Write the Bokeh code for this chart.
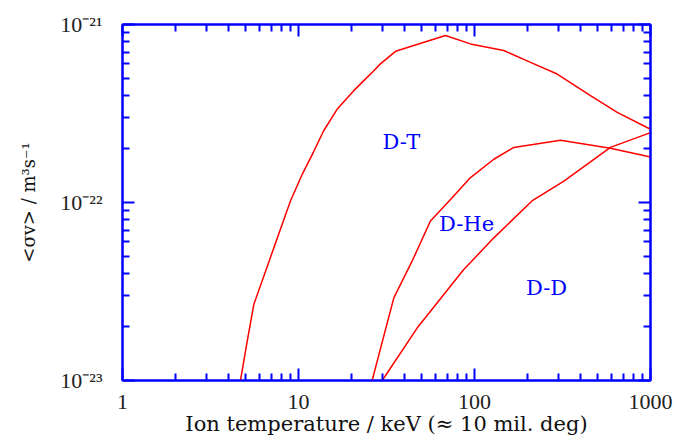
from bokeh.plotting import figure
from bokeh.models import LogAxis, FixedTicker, CustomJSTickFormatter, Range1d, Label
from bokeh.embed import file_html
from bokeh.resources import INLINE

# ---- data ----
dt_T = [4.68, 5.11, 5.57, 7.24, 8.08, 9.0, 10.5, 12.0, 13.9, 16.6, 20.6, 23.5, 26.8, 29.2, 35.6, 68.4, 94.9, 146.6, 208, 295, 456, 647, 1000]
dt_sv = [1.0e-23, 1.66e-23, 2.67e-23, 5.56e-23, 7.54e-23, 1.02e-22, 1.44e-22, 1.87e-22, 2.53e-22, 3.35e-22, 4.25e-22, 4.84e-22, 5.5e-22, 6.01e-22, 7.07e-22, 8.67e-22, 7.78e-22, 7.14e-22, 6.13e-22, 5.27e-22, 3.98e-22, 3.21e-22, 2.58e-22]

dhe_T = [26.2, 34.8, 44.2, 56.2, 73.1, 94.9, 128.8, 167, 308, 592, 1000]
dhe_sv = [1.0e-23, 2.91e-23, 4.68e-23, 7.87e-23, 1.04e-22, 1.38e-22, 1.75e-22, 2.04e-22, 2.24e-22, 2.02e-22, 1.80e-22]

dd_T = [29.9, 47.2, 86.9, 128.8, 212, 322, 592, 1000]
dd_sv = [1.0e-23, 1.97e-23, 4.2e-23, 6.33e-23, 1.02e-22, 1.32e-22, 2.04e-22, 2.47e-22]

label_text = ["D-T", "D-He", "D-D"]
label_T = [38.4, 90.1, 256.6]
label_sv = [2.2e-22, 7.6e-23, 3.3e-23]

x_major = [1, 10, 100, 1000]
y_major = [1e-23, 1e-22, 1e-21]

BLUE = "#0000ff"
RED = "#ff0000"
TICK_FONT = "Liberation Serif"
TEXT_FONT = "DejaVu Serif"

x_minor = [k * d for d in (1, 10, 100) for k in range(2, 10)]
y_minor = [k * d for d in (1e-23, 1e-22) for k in range(2, 10)]

p = figure(width=677, height=444, x_axis_type="log", y_axis_type="log",
           x_range=Range1d(1, 1000), y_range=Range1d(1e-23, 1e-21),
           output_backend="svg", toolbar_location=None,
           min_border_left=122, min_border_right=27, min_border_top=24, min_border_bottom=64)
p.xgrid.visible = False
p.ygrid.visible = False
p.outline_line_color = BLUE
p.outline_line_width = 2
p.background_fill_color = "white"
p.border_fill_color = "white"

sup_code = """
const e = Math.round(Math.log10(tick));
const sup = {'-':'\u207b','0':'\u2070','1':'\u00b9','2':'\u00b2','3':'\u00b3','4':'\u2074','5':'\u2075','6':'\u2076','7':'\u2077','8':'\u2078','9':'\u2079'};
return '10' + String(e).split('').map(c => sup[c]).join('');
"""
plain = CustomJSTickFormatter(code="return String(Math.round(tick));")
blank = CustomJSTickFormatter(code="return '';")


def style(ax):
    ax.axis_line_color = BLUE
    ax.axis_line_width = 2
    ax.major_tick_line_color = BLUE
    ax.major_tick_line_width = 2
    ax.minor_tick_line_color = BLUE
    ax.minor_tick_line_width = 2
    ax.major_tick_in = 12
    ax.major_tick_out = 0
    ax.minor_tick_in = 7
    ax.minor_tick_out = 0
    ax.major_label_text_font = TICK_FONT
    ax.major_label_text_font_size = "22px"
    ax.major_label_text_color = "#222222"
    ax.axis_label_text_font = TEXT_FONT
    ax.axis_label_text_font_size = "21px"
    ax.axis_label_text_font_style = "normal"
    ax.axis_label_text_color = "#111111"


xa = p.xaxis[0]
xa.ticker = FixedTicker(ticks=x_major, minor_ticks=x_minor)
xa.formatter = plain
style(xa)
xa.major_label_standoff = 14
xa.axis_label = "Ion temperature / keV (\u2248 10 mil. deg)"
xa.axis_label_standoff = 0

ya = p.yaxis[0]
ya.ticker = FixedTicker(ticks=y_major, minor_ticks=y_minor)
ya.formatter = CustomJSTickFormatter(code=sup_code)
style(ya)
ya.major_label_standoff = 20
ya.axis_label = "<\u03c3v> / m\u00b3s\u207b\u00b9"
ya.axis_label_text_font_size = "18px"
ya.axis_label_standoff = 18

top = LogAxis(ticker=FixedTicker(ticks=x_major, minor_ticks=x_minor), formatter=blank)
style(top)
top.major_label_standoff = 0
p.add_layout(top, "above")

right = LogAxis(ticker=FixedTicker(ticks=y_major, minor_ticks=y_minor), formatter=blank)
style(right)
right.major_label_standoff = 0
p.add_layout(right, "right")

p.line(dt_T, dt_sv, line_color=RED, line_width=1.5)
p.line(dhe_T, dhe_sv, line_color=RED, line_width=1.5)
p.line(dd_T, dd_sv, line_color=RED, line_width=1.5)

for t, xx, yy in zip(label_text, label_T, label_sv):
    p.add_layout(Label(x=xx, y=yy, text=t, text_align="center", text_baseline="middle",
                       text_color=BLUE, text_font=TEXT_FONT, text_font_size="21px"))

open("out.html", "w").write(file_html(p, INLINE))
